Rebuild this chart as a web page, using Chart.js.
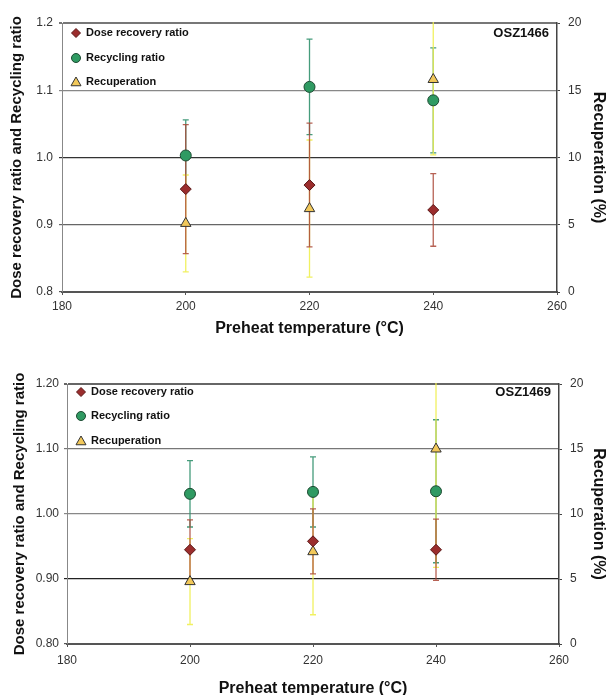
<!DOCTYPE html>
<html>
<head>
<meta charset="utf-8">
<script src="https://cdn.jsdelivr.net/npm/chart.js@4/dist/chart.umd.min.js"></script>
<style>
  body { margin: 0; background: #fff; width: 608px; height: 695px; overflow: hidden; position: relative; }
  .box { position: absolute; left: 0; width: 608px; }
</style>
</head>
<body>
<div class="box" style="top:0;height:340px"><canvas id="c1"></canvas></div>
<div class="box" style="top:345px;height:353px"><canvas id="c2"></canvas></div>
<script>
// preheat temperatures (°C)
const temps = [200, 220, 240];

// OSZ1466
const dose1 = [0.953, 0.959, 0.922];
const doseErr1 = [0.096, 0.092, 0.054];
const recyc1 = [1.003, 1.105, 1.085];
const recycErr1 = [0.053, 0.071, 0.078];
const recup1 = [5.1, 6.2, 15.8];
const recupErr1 = [3.6, 5.1, 5.6];

// OSZ1469
const dose2 = [0.945, 0.958, 0.945];
const doseErr2 = [0.046, 0.050, 0.047];
const recyc2 = [1.031, 1.034, 1.035];
const recycErr2 = [0.051, 0.054, 0.110];
const recup2 = [4.8, 7.1, 15.0];
const recupErr2 = [3.3, 4.85, 9.1];

const seriesNames = ['Dose recovery ratio', 'Recycling ratio', 'Recuperation'];
const xTicks = [180, 200, 220, 240, 260];

const FONT = "'Liberation Sans', Arial, sans-serif";
Chart.defaults.font.family = FONT;

const pts = (vals) => temps.map((t, i) => ({ x: t, y: vals[i] }));

// vertical error bars, drawn under the markers
const errorBars = {
  id: 'errorBars',
  beforeDatasetsDraw(chart) {
    const ctx = chart.ctx, a = chart.chartArea;
    ctx.save();
    ctx.beginPath();
    ctx.rect(a.left, a.top - 1, a.right - a.left, a.bottom - a.top + 2);
    ctx.clip();
    [1, 2, 0].forEach(i => {
      const ds = chart.data.datasets[i];
      const meta = chart.getDatasetMeta(i);
      const ys = chart.scales[ds.yAxisID];
      ctx.strokeStyle = ds.errColor;
      ctx.lineWidth = 1.3;
      ds.data.forEach((p, j) => {
        const x = meta.data[j].x;
        const hi = ys.getPixelForValue(p.y + ds.errors[j]);
        const lo = ys.getPixelForValue(p.y - ds.errors[j]);
        ctx.beginPath();
        ctx.moveTo(x, hi); ctx.lineTo(x, lo);
        ctx.moveTo(x - 3, hi); ctx.lineTo(x + 3, hi);
        ctx.moveTo(x - 3, lo); ctx.lineTo(x + 3, lo);
        ctx.stroke();
      });
    });
    ctx.restore();
  }
};

// legend in the top-left corner and sample name top-right
const panel = {
  id: 'panel',
  afterDraw(chart, args, opts) {
    const ctx = chart.ctx, a = chart.chartArea;
    ctx.save();
    chart.data.datasets.forEach((ds, i) => {
      const y = a.top + opts.rows[i];
      const x = a.left + opts.markX;
      const r = ds.legendRadius;
      ctx.fillStyle = ds.backgroundColor;
      ctx.strokeStyle = ds.borderColor;
      ctx.lineWidth = 1;
      ctx.beginPath();
      if (ds.pointStyle === 'circle') {
        ctx.arc(x, y, r, 0, Math.PI * 2);
      } else if (ds.pointStyle === 'rectRot') {
        ctx.moveTo(x, y - r); ctx.lineTo(x + r, y); ctx.lineTo(x, y + r); ctx.lineTo(x - r, y);
        ctx.closePath();
      } else {
        ctx.moveTo(x, y - r); ctx.lineTo(x + r, y + r * 0.75); ctx.lineTo(x - r, y + r * 0.75);
        ctx.closePath();
      }
      ctx.fill();
      ctx.stroke();
      ctx.fillStyle = '#111';
      ctx.font = 'bold 11px ' + FONT;
      ctx.textAlign = 'left';
      ctx.textBaseline = 'middle';
      ctx.fillText(ds.label, a.left + opts.textX, y);
    });
    ctx.font = 'bold 13px ' + FONT;
    ctx.textAlign = 'right';
    ctx.textBaseline = 'middle';
    ctx.fillStyle = '#111';
    ctx.fillText(opts.label, a.right - opts.labelRight, a.top + opts.rows[0]);
    ctx.restore();
  }
};

function makeChart(id, data, L) {
  const gridColor = c => L.grid[Math.round(c.tick.value * 10)] || '#666';
  return new Chart(document.getElementById(id), {
    type: 'scatter',
    data: {
      datasets: [
        {
          label: seriesNames[0], data: pts(data.dose), errors: data.doseErr, yAxisID: 'y',
          pointStyle: 'rectRot', pointRadius: 5.5, legendRadius: 4.5,
          backgroundColor: '#9b2d2d', borderColor: '#5a1616', borderWidth: 1,
          errColor: 'rgba(170,70,55,0.85)'
        },
        {
          label: seriesNames[1], data: pts(data.recyc), errors: data.recycErr, yAxisID: 'y',
          pointStyle: 'circle', pointRadius: 5.5, legendRadius: 4.5,
          backgroundColor: '#2f9a62', borderColor: '#1c4a31', borderWidth: 1,
          errColor: 'rgba(50,145,110,0.9)'
        },
        {
          label: seriesNames[2], data: pts(data.recup), errors: data.recupErr, yAxisID: 'y2',
          pointStyle: 'triangle', pointRadius: 6, legendRadius: 5,
          backgroundColor: '#f2c85a', borderColor: '#333', borderWidth: 1,
          errColor: 'rgba(240,240,80,0.9)'
        }
      ]
    },
    options: {
      responsive: true,
      maintainAspectRatio: false,
      animation: false,
      layout: { padding: { top: L.top, left: 0, right: 0, bottom: 0 } },
      plugins: {
        legend: { display: false },
        tooltip: { enabled: false },
        panel: { rows: L.rows, markX: 14, textX: 24, label: L.label, labelRight: 8 }
      },
      scales: {
        x: {
          type: 'linear', position: 'bottom', min: 180, max: 260,
          afterBuildTicks: s => { s.ticks = xTicks.map(v => ({ value: v })); },
          ticks: { padding: L.xPad, color: '#333', font: { size: 12 } },
          grid: { drawOnChartArea: false, tickLength: 3, color: '#555' },
          border: { color: '#555', width: 2 },
          title: {
            display: true, text: 'Preheat temperature (°C)', color: '#111',
            font: { size: 16, weight: 'bold' }, padding: { top: 0, bottom: L.xTitlePad }
          },
          afterFit: s => { s.height = L.xH; }
        },
        y: {
          position: 'left', min: 0.8, max: 1.2,
          ticks: { stepSize: 0.1, padding: L.yPad, color: '#333', font: { size: 12 },
                   callback: v => v.toFixed(L.dec) },
          grid: { tickLength: 3, color: gridColor,
                  lineWidth: c => Math.round(c.tick.value * 10) === 12 ? 2 : 1.2 },
          border: { color: '#888', width: 1 },
          title: {
            display: true, text: 'Dose recovery ratio and Recycling ratio', color: '#111',
            font: { size: 15, weight: 'bold' }, padding: { top: L.yTitlePad, bottom: 0 }
          },
          afterFit: s => { s.width = L.yW; }
        },
        y2: {
          position: 'right', min: 0, max: 20,
          ticks: { stepSize: 5, padding: 8, color: '#333', font: { size: 12 } },
          grid: { drawOnChartArea: false, tickLength: 3, color: '#444' },
          border: { color: '#444', width: 1.5 },
          title: {
            display: true, text: 'Recuperation (%)', color: '#111',
            font: { size: 16, weight: 'bold' }, padding: { top: 0, bottom: 0 }
          },
          afterFit: s => { s.width = L.y2W; }
        }
      }
    },
    plugins: [errorBars, panel]
  });
}

makeChart('c1',
  { dose: dose1, doseErr: doseErr1, recyc: recyc1, recycErr: recycErr1, recup: recup1, recupErr: recupErr1 },
  { label: 'OSZ1466', top: 23, yW: 62, y2W: 51, xH: 48, xPad: 4, xTitlePad: 2, yPad: 6, yTitlePad: 8, dec: 1,
    rows: [10, 35, 59],
    grid: { 8: '#555', 9: '#666', 10: '#333', 11: '#888', 12: '#777' } });

makeChart('c2',
  { dose: dose2, doseErr: doseErr2, recyc: recyc2, recycErr: recycErr2, recup: recup2, recupErr: recupErr2 },
  { label: 'OSZ1469', top: 39, yW: 67, y2W: 49, xH: 54, xPad: 6, xTitlePad: 0, yPad: 5, yTitlePad: 11, dec: 2,
    rows: [8, 32, 57],
    grid: { 8: '#555', 9: '#222', 10: '#888', 11: '#777', 12: '#666' } });
</script>
</body>
</html>
